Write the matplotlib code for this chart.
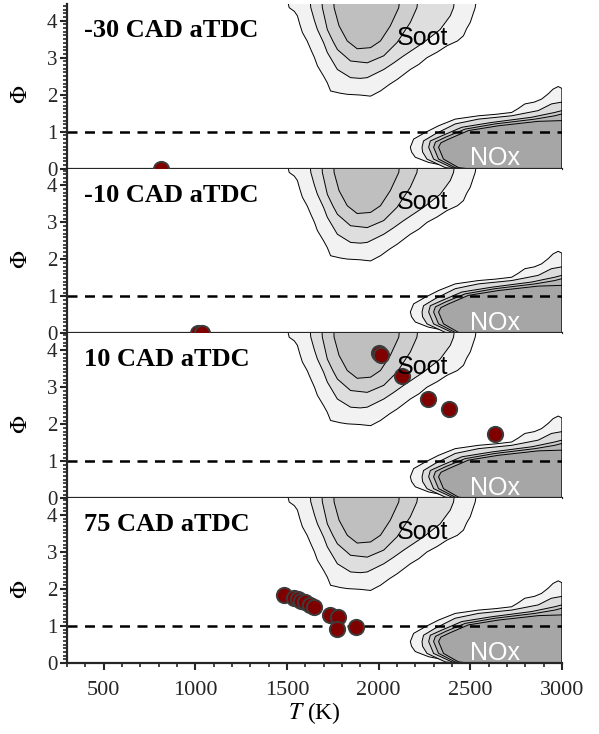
import matplotlib.pyplot as plt
from matplotlib.ticker import MultipleLocator

# panel labels
labels = ['-30 CAD aTDC', '-10 CAD aTDC', '10 CAD aTDC', '75 CAD aTDC']

# parcel states (T in K, equivalence ratio)
T_pts = [
    [811],
    [1015, 1035],
    [2000, 2012, 2128, 2267, 2382, 2635],
    [1485, 1539, 1560, 1576, 1600, 1625, 1648, 1733, 1780, 1771, 1878],
]
phi_pts = [
    [0.0],
    [0.0, 0.0],
    [3.92, 3.88, 3.31, 2.68, 2.40, 1.74],
    [1.84, 1.75, 1.72, 1.68, 1.64, 1.58, 1.52, 1.31, 1.23, 0.93, 0.98],
]

# soot contours, outer -> inner
soot_T = [
    [1500, 1512, 1540, 1557, 1570, 1584, 1610, 1630, 1650, 1666, 1700, 1720, 1738, 1790, 1829, 1900, 1956, 2010, 2060, 2101, 2173, 2220, 2264, 2320, 2373, 2430, 2463, 2480, 2500, 2527, 2535],
    [1625, 1630, 1650, 1666, 1700, 1720, 1775, 1847, 1900, 1938, 2028, 2080, 2137, 2246, 2336, 2391, 2409, 2415],
    [1690, 1693, 1720, 1750, 1775, 1847, 1938, 2028, 2101, 2173, 2209, 2215],
    [1755, 1757, 1784, 1829, 1883, 1956, 2010, 2064, 2110, 2115],
]
soot_phi = [
    [4.60, 4.35, 4.25, 4.13, 3.90, 3.68, 3.45, 3.22, 3.00, 2.78, 2.50, 2.32, 2.10, 2.04, 2.01, 1.99, 1.96, 2.10, 2.28, 2.41, 2.68, 2.82, 3.00, 3.15, 3.32, 3.45, 3.59, 3.78, 3.95, 4.35, 4.60],
    [4.60, 4.35, 4.00, 3.76, 3.40, 3.14, 2.68, 2.46, 2.44, 2.46, 2.68, 2.85, 3.05, 3.41, 3.76, 4.13, 4.35, 4.60],
    [4.60, 4.35, 3.76, 3.45, 3.22, 2.91, 2.86, 3.05, 3.41, 3.95, 4.35, 4.60],
    [4.60, 4.35, 3.86, 3.45, 3.24, 3.27, 3.45, 3.86, 4.35, 4.60],
]
soot_colors = ['#f2f2f2', '#dedede', '#cecece', '#bfbfbf']

# NOx contours, outer -> inner
nox_T = [
    [2472, 2364, 2273, 2200, 2180, 2173, 2191, 2255, 2327, 2418, 2545, 2640, 2726, 2760, 2798, 2850, 2889, 2925, 2952, 2980, 3000, 3000],
    [2418, 2364, 2264, 2240, 2237, 2245, 2309, 2418, 2545, 2726, 2871, 2943, 3000, 3000],
    [2436, 2400, 2300, 2273, 2282, 2345, 2454, 2617, 2835, 2961, 3000, 3000],
    [2454, 2418, 2327, 2300, 2310, 2364, 2472, 2635, 2853, 2961, 3000, 3000],
    [2490, 2436, 2354, 2327, 2340, 2382, 2490, 2653, 2871, 3000, 3000],
]
nox_phi = [
    [0.00, 0.08, 0.17, 0.31, 0.45, 0.58, 0.80, 0.98, 1.16, 1.34, 1.43, 1.47, 1.52, 1.62, 1.75, 1.80, 1.88, 2.02, 2.15, 2.22, 2.17, 0.00],
    [0.00, 0.03, 0.26, 0.45, 0.58, 0.75, 0.94, 1.21, 1.34, 1.43, 1.57, 1.75, 1.80, 0.00],
    [0.00, 0.03, 0.26, 0.58, 0.75, 0.89, 1.12, 1.25, 1.39, 1.52, 1.57, 0.00],
    [0.00, 0.03, 0.26, 0.58, 0.72, 0.85, 1.07, 1.21, 1.34, 1.43, 1.48, 0.00],
    [0.00, 0.03, 0.26, 0.58, 0.70, 0.80, 1.03, 1.16, 1.28, 1.30, 0.00],
]
nox_colors = ['#f2f2f2', '#dcdcdc', '#c8c8c8', '#b6b6b6', '#a6a6a6']

plt.rcParams['font.family'] = ['Liberation Serif', 'DejaVu Serif']
plt.rcParams['mathtext.fontset'] = 'stix'

fig, axes = plt.subplots(4, 1, sharex=True, figsize=(5.99, 7.34), dpi=100)
fig.subplots_adjust(left=0.112, right=0.938, bottom=0.0967, top=0.9946, hspace=0)

for i, ax in enumerate(axes):
    for xs, ys, c in zip(soot_T, soot_phi, soot_colors):
        ax.fill(xs, ys, facecolor=c, edgecolor='black', lw=0.7, zorder=1)
    for xs, ys, c in zip(nox_T, nox_phi, nox_colors):
        ax.fill(xs, ys, facecolor=c, edgecolor='black', lw=0.7, zorder=1)

    ax.axhline(1, color='black', ls=(0, (4, 3)), lw=1.8, zorder=2)
    ax.plot(T_pts[i], phi_pts[i], 'o', ms=11, mfc='#800000', mec='#3c3c3c',
            mew=1.4, zorder=6)

    ax.text(2101, 3.54, 'Soot', family='Liberation Sans', fontsize=18,
            color='black', va='center', zorder=7)
    ax.text(2500, 0.28, 'NOx', family='Liberation Sans', fontsize=18,
            color='white', va='center', zorder=7)
    ax.text(0.034, 0.84, labels[i], transform=ax.transAxes, fontsize=19,
            fontweight='bold', va='center', zorder=7)

    ax.set_xlim(300, 3000)
    ax.set_ylim(0, 4.45)
    ax.set_yticks([0, 1, 2, 3, 4])
    ax.yaxis.set_minor_locator(MultipleLocator(0.1))
    ax.tick_params(axis='y', which='major', labelsize=15, length=5, width=1.5,
                   direction='out', colors='#262626', pad=2)
    ax.tick_params(axis='y', which='minor', length=3, width=1.2, direction='out',
                   colors='#262626')
    ax.set_ylabel(r'$\Phi$', fontsize=17)
    ax.yaxis.set_label_coords(-0.07, 0.45)

    ax.spines['top'].set_visible(False)
    ax.spines['right'].set_visible(False)
    for s in ['left', 'bottom']:
        ax.spines[s].set_linewidth(1.6)
        ax.spines[s].set_color('#262626')
        ax.spines[s].set_zorder(5)

    if i < 3:
        ax.tick_params(axis='x', which='both', length=0, labelbottom=False)

ax = axes[-1]
ax.set_xticks([500, 1000, 1500, 2000, 2500, 3000])
ax.xaxis.set_minor_locator(MultipleLocator(100))
ax.tick_params(axis='x', which='major', labelsize=16, length=5, width=1.5,
               direction='out', colors='#262626', pad=8)
ax.tick_params(axis='x', which='minor', length=3, width=1.2, direction='out',
               colors='#262626')
ax.set_xlabel(r'$T$ (K)', fontsize=17, labelpad=0)

fig.savefig('out.png', dpi=100)
